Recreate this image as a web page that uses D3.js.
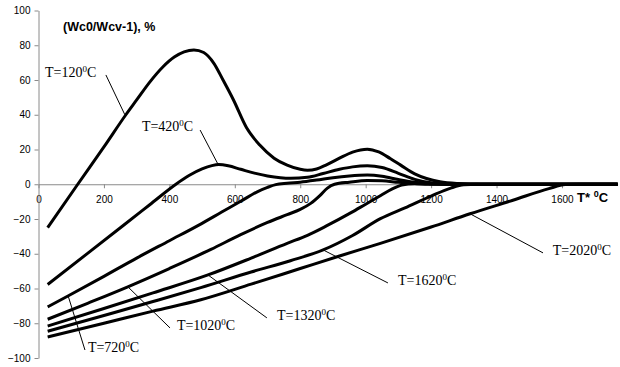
<!DOCTYPE html>
<html><head><meta charset="utf-8">
<script src="https://cdn.jsdelivr.net/npm/d3@7"></script>
<style>body{margin:0;background:#fff}svg{display:block}</style>
</head><body><svg id="c" width="620" height="367"></svg>
<script>
// ---- data ----
const xTicks = [0, 200, 400, 600, 800, 1000, 1200, 1400, 1600];
const yTicks = [-100, -80, -60, -40, -20, 0, 20, 40, 60, 80, 100];
const seriesNames = ["120", "420", "720", "1020", "1320", "1620", "2020"];

const s120 = [[28,-25],[120,0],[200,21.5],[267,40],[300,48.5],[340,58.8],[380,67.5],[415,73.2],[445,76.2],[475,77.3],[505,75.8],[536,69.6],[564,60],[596,48.5],[636,32.5],[677,22.4],[720,15],[760,11],[800,8.6],[822,8.1],[850,8.8],[880,11.2],[920,15],[960,18.5],[1005,20.2],[1040,18.6],[1075,14.8],[1107,11],[1150,6],[1186,3.3],[1227,1.4],[1280,0.4],[1350,0],[1770,0]];
const s420 = [[28,-57.7],[150,-39.8],[260,-23.6],[340,-11.8],[420,0],[460,5],[500,8.8],[530,10.7],[551,11.3],[580,10.6],[618,8.6],[660,6.4],[700,4.8],[771,3.4],[822,4],[870,6.2],[920,8.6],[960,10],[1005,10.6],[1050,9.6],[1100,6.3],[1150,2.8],[1200,0.9],[1260,0.2],[1330,0],[1770,0]];
const s720 = [[28,-70.6],[90,-64.3],[200,-53],[300,-42.5],[400,-32.5],[490,-23.5],[560,-16],[618,-9.8],[670,-4.2],[700,-1.8],[725,-0.2],[760,0.6],[800,1.2],[850,2.4],[900,3.8],[950,4.8],[1005,5.3],[1050,4.6],[1100,2.7],[1150,1.1],[1200,0.3],[1260,0],[1770,0]];
const s1020 = [[28,-77.7],[150,-68.5],[273,-59],[400,-48.5],[527,-37.5],[618,-29],[700,-22],[760,-17.5],[800,-14.5],[832,-11],[860,-6.5],[883,-2.2],[905,0],[950,1.2],[1005,2.2],[1050,2],[1100,1.1],[1150,0.4],[1200,0],[1770,0]];
const s1320 = [[28,-81.6],[200,-71.5],[350,-62.5],[518,-52.2],[650,-42.5],[760,-34],[822,-29.4],[880,-24],[954,-16.5],[1000,-11.5],[1046,-6.5],[1080,-2.8],[1110,-0.5],[1150,0.3],[1200,0.2],[1260,0],[1770,0]];
const s1620 = [[28,-84.6],[200,-75.5],[350,-67.5],[496,-59.5],[650,-50.5],[770,-44],[870,-37.8],[960,-29.5],[1045,-19.8],[1120,-13.6],[1200,-6.8],[1260,-2.2],[1300,-0.3],[1340,0],[1770,0]];
const s2020 = [[28,-87.9],[200,-80],[350,-73],[496,-66.5],[650,-57.5],[800,-48.5],[920,-41.3],[1045,-34],[1200,-24.6],[1319,-17],[1450,-9.2],[1560,-2.5],[1610,-0.2],[1660,0],[1770,0]];
const allSeries = [s120, s420, s720, s1020, s1320, s1620, s2020];

// label anchors and leader lines, in data units: [labelX, labelY, leaderFromX, leaderFromY, leaderToX, leaderToY]
const labelPos = [
  [20, 61.5, 206, 62.9, 264, 40],
  [316, 30.4, 494, 31.2, 549, 11.4],
  [151, -96.5, 142, -95.4, 90, -63.9],
  [423, -84, 402, -82.7, 273, -59],
  [729, -78.2, 698, -76.9, 518, -52.2],
  [1099, -58.2, 1068, -56.8, 870, -37.8],
  [1572, -40.6, 1542, -39.5, 1319, -17]
];

// ---- chart ----
const svg = d3.select("#c");
const x = d3.scaleLinear().domain([0, 1770]).range([38.5, 617.6]);
const y = d3.scaleLinear().domain([-100, 100]).range([358, 10.5]);

const gx = svg.append("g").attr("transform", `translate(0,${y(0)})`)
  .call(d3.axisBottom(x).tickValues(xTicks).tickFormat(d3.format("d")).tickSize(4).tickSizeOuter(0).tickPadding(8));
const gy = svg.append("g").attr("transform", `translate(${x(0)},0)`)
  .call(d3.axisLeft(y).tickValues(yTicks).tickFormat(d3.format("d")).tickSize(4).tickSizeOuter(0).tickPadding(4));
[gx, gy].forEach(g => {
  g.select(".domain").attr("stroke", "#8a8a8a");
  g.selectAll(".tick line").attr("stroke", "#8a8a8a");
  g.selectAll(".tick text").attr("fill", "#000").attr("font-family", "Arial, 'Liberation Sans', sans-serif").attr("font-size", 10);
});

const line = d3.line().x(d => x(d[0])).y(d => y(d[1])).curve(d3.curveMonotoneX);
svg.append("g").selectAll("path").data(allSeries).join("path")
  .attr("d", line).attr("fill", "none").attr("stroke", "#000")
  .attr("stroke-width", 3).attr("stroke-linejoin", "round").attr("stroke-linecap", "butt");

// leaders
svg.append("g").selectAll("line").data(labelPos).join("line")
  .attr("x1", d => x(d[2])).attr("y1", d => y(d[3]))
  .attr("x2", d => x(d[4])).attr("y2", d => y(d[5]))
  .attr("stroke", "#000").attr("stroke-width", 1);

// labels
const lab = svg.append("g").selectAll("text").data(labelPos).join("text")
  .attr("x", d => x(d[0])).attr("y", d => y(d[1]))
  .attr("font-family", "'Liberation Serif', 'Times New Roman', serif").attr("font-size", 14).attr("fill", "#000");
lab.append("tspan").text((d, i) => "T=" + seriesNames[i]);
lab.append("tspan").attr("font-size", 9).attr("dy", -5).text("0");
lab.append("tspan").attr("dy", 5).text("C");

// title and axis name
svg.append("text").attr("x", 63).attr("y", 31)
  .attr("font-family", "Arial, 'Liberation Sans', sans-serif").attr("font-weight", "bold").attr("font-size", 12.5)
  .text("(Wc0/Wcv-1), %");
const xn = svg.append("text").attr("x", 577).attr("y", 201.5)
  .attr("font-family", "Arial, 'Liberation Sans', sans-serif").attr("font-weight", "bold").attr("font-size", 13);
xn.append("tspan").text("T* ");
xn.append("tspan").attr("font-size", 9).attr("dy", -5).text("0");
xn.append("tspan").attr("dy", 5).text("C");
</script></body></html>
